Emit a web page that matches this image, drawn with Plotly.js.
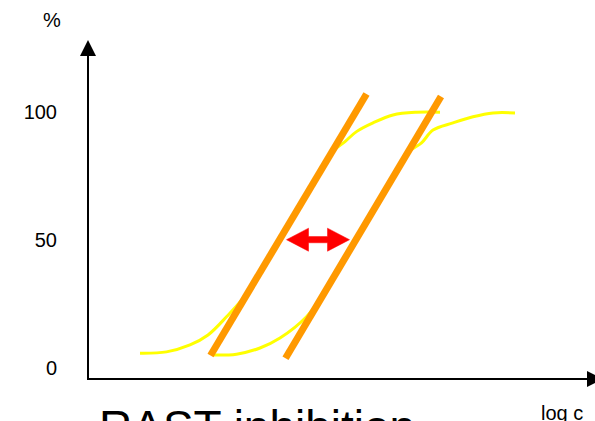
<!DOCTYPE html>
<html>
<head>
<meta charset="utf-8">
<script src="https://cdn.plot.ly/plotly-3.0.1.min.js"></script>
<style>html,body{margin:0;padding:0;background:#fff;}#chart{width:595px;height:421px;}</style>
</head>
<body>
<div id="chart"></div>
<script>
// Sigmoid curve 1 (log c, %)
var curve1X = [10.4, 15.7, 20.4, 24.0, 27.7, 32.2, 38.3, 44.4, 48.7, 51.4, 53.7, 57.0, 61.0, 65.7, 70.4];
var curve1Y = [5.7, 6.2, 8.9, 12.8, 19.9, 30, 50, 70, 84, 88.3, 92.2, 95.6, 98.7, 99.75, 99.75];
// Sigmoid curve 2 (shifted)
var curve2X = [25.1, 29.7, 34.4, 38.4, 43.7, 47.5, 53.6, 59.7, 64.0, 66.7, 69.0, 73.0, 77.0, 81.0, 85.4];
var curve2Y = [4.95, 5.3, 7.7, 11.6, 19.9, 30, 50, 70, 84, 87.8, 92.8, 95.6, 98.0, 99.5, 99.5];
// Linear segments (tangents)
var line1X = [24.5, 55.7];
var line1Y = [4.8, 106.9];
var line2X = [39.5, 70.6];
var line2Y = [3.7, 105.9];
// Shift arrow at 50 %
var shiftX = [39.7, 52.3];
var shiftY = [50, 50];
// Tick labels
var yTickVals = [0, 50, 100];
var yTickText = ['0', '50', '100'];

var FONT = 'Liberation Sans, Arial, Helvetica, sans-serif';

// double-headed arrow outline built from the shift endpoints (style sizes in axis units)
var HEAD_LEN = 4.4, HEAD_HALF = 4.5, SHAFT_HALF = 1.2;
function doubleArrow(xs, ys) {
  var x0 = xs[0], x1 = xs[1], y = ys[0];
  var px = [x0, x0 + HEAD_LEN, x0 + HEAD_LEN, x1 - HEAD_LEN, x1 - HEAD_LEN, x1, x1 - HEAD_LEN, x1 - HEAD_LEN, x0 + HEAD_LEN, x0 + HEAD_LEN, x0];
  var py = [y, y + HEAD_HALF, y + SHAFT_HALF, y + SHAFT_HALF, y + HEAD_HALF, y, y - HEAD_HALF, y - SHAFT_HALF, y - SHAFT_HALF, y - HEAD_HALF, y];
  return {x: px, y: py};
}
var arrow = doubleArrow(shiftX, shiftY);

var traces = [
  {x: curve1X, y: curve1Y, mode: 'lines', line: {color: '#FFFF00', width: 3, shape: 'spline', smoothing: 1}, hoverinfo: 'skip'},
  {x: curve2X, y: curve2Y, mode: 'lines', line: {color: '#FFFF00', width: 3, shape: 'spline', smoothing: 1}, hoverinfo: 'skip'},
  {x: line1X, y: line1Y, mode: 'lines', line: {color: '#FF9900', width: 7}, hoverinfo: 'skip'},
  {x: line2X, y: line2Y, mode: 'lines', line: {color: '#FF9900', width: 7}, hoverinfo: 'skip'},
  {x: arrow.x, y: arrow.y, mode: 'lines', fill: 'toself', fillcolor: '#FF0000', line: {color: '#FF0000', width: 0.5}, hoverinfo: 'skip'}
];

var layout = {
  width: 595, height: 421,
  margin: {l: 88, r: 7, t: 42, b: 42},
  paper_bgcolor: '#ffffff', plot_bgcolor: '#ffffff',
  showlegend: false,
  font: {family: FONT, color: '#000', size: 20},
  xaxis: {range: [0, 100], showline: false, showgrid: false, zeroline: false, showticklabels: false, ticks: '', fixedrange: true},
  yaxis: {range: [-4.4, 127.2], showline: false, showgrid: false, zeroline: false,
          tickmode: 'array', tickvals: yTickVals, ticktext: yTickText, ticks: '',
          ticklabelstandoff: 30, tickfont: {family: FONT, size: 20, color: '#000'}, fixedrange: true},
  shapes: [
    // y axis line + arrowhead
    {type: 'line', xref: 'paper', yref: 'paper', x0: 0, x1: 0, y0: 0, y1: 0.97, line: {color: '#000', width: 2}},
    {type: 'path', xref: 'paper', yref: 'paper', path: 'M -0.016 0.9585 L 0 1.0059 L 0.016 0.9585 Z',
     fillcolor: '#000', line: {color: '#000', width: 0}},
    // x axis line + arrowhead
    {type: 'line', xref: 'paper', yref: 'paper', x0: -0.002, x1: 1.0, y0: 0, y1: 0, line: {color: '#000', width: 2}},
    {type: 'path', xref: 'paper', yref: 'paper', path: 'M 0.998 -0.0237 L 1.03 0 L 0.998 0.0237 Z',
     fillcolor: '#000', line: {color: '#000', width: 0}}
  ],
  annotations: [
    {xref: 'paper', yref: 'paper', x: -0.072, y: 1.065, text: '%', showarrow: false, xanchor: 'center', yanchor: 'middle',
     font: {family: FONT, size: 20, color: '#000'}},
    {xref: 'paper', yref: 'paper', x: 0.947, y: -0.1, text: 'log c', showarrow: false, xanchor: 'center', yanchor: 'middle',
     font: {family: FONT, size: 20, color: '#000'}},
    {xref: 'paper', yref: 'paper', x: 0.017, y: -0.142, text: 'RAST inhibition', showarrow: false, xanchor: 'left', yanchor: 'middle',
     font: {family: FONT, size: 46, color: '#000'}}
  ]
};

Plotly.newPlot('chart', traces, layout, {staticPlot: true, displayModeBar: false});
</script>
</body>
</html>
